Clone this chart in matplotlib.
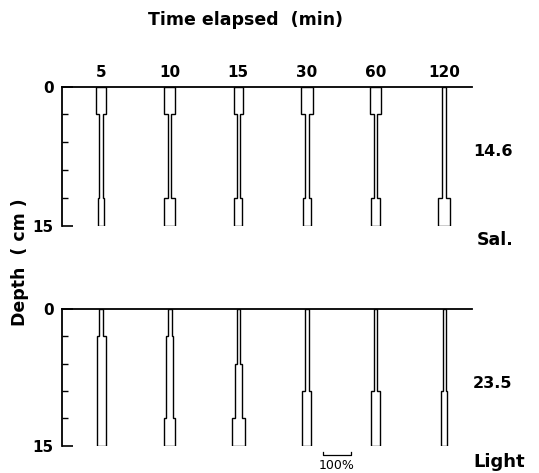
import matplotlib
matplotlib.use("Agg")
import matplotlib.pyplot as plt

# data: percent of population in each depth layer
times = ["5", "10", "15", "30", "60", "120"]
layer_edges = [0, 3, 6, 9, 12, 15]
sal_pct = [
    [38, 13, 13, 13, 20],
    [38, 11, 11, 11, 39],
    [32, 10, 10, 10, 28],
    [45, 14, 14, 14, 30],
    [38, 14, 14, 14, 32],
    [17, 17, 17, 17, 42],
]
light_pct = [
    [12, 32, 32, 32, 32],
    [13, 24, 24, 24, 38],
    [12, 12, 26, 26, 45],
    [13, 13, 13, 32, 32],
    [14, 14, 14, 32, 32],
    [11, 11, 11, 21, 21],
]
side_values = ["14.6", "23.5"]
side_names = ["Sal.", "Light"]

W, H = 539, 473
UNIT = 0.408 / 100.0   # x-units per percent (100% = scale bar)
XLIM = (0.43, 6.407)
FONT = "DejaVu Sans"


def px(x, y):
    return x / W, 1 - y / H


def profile(ax, pos, pcts):
    # outline of one stepped column, right side down then left side up
    xs, ys = [], []
    for i, p in enumerate(pcts):
        half = p * UNIT / 2
        xs += [pos + half, pos + half]
        ys += [layer_edges[i], layer_edges[i + 1]]
    for i in range(len(pcts) - 1, -1, -1):
        half = pcts[i] * UNIT / 2
        xs += [pos - half, pos - half]
        ys += [layer_edges[i + 1], layer_edges[i]]
    ax.fill(xs, ys, facecolor="white", edgecolor="black", lw=1.0, zorder=3)


fig = plt.figure(figsize=(W / 100, H / 100), dpi=100)

panels = [(86.7, 225.7, sal_pct), (309.0, 445.7, light_pct)]
axes = []
for k, (top, bot, data) in enumerate(panels):
    l, b = px(62, bot)
    ax = fig.add_axes([l, b, 410 / W, (bot - top) / H])
    ax.set_xlim(*XLIM)
    ax.set_ylim(15, 0)
    for i, pcts in enumerate(data):
        profile(ax, i + 1, pcts)
    for s in ["right", "bottom"]:
        ax.spines[s].set_visible(False)
    ax.spines["left"].set_linewidth(1.3)
    ax.spines["top"].set_linewidth(1.3)
    ax.set_yticks([0, 15])
    ax.set_yticklabels(["0", "15"], fontsize=11, fontweight="bold", family=FONT)
    ax.set_yticks([3, 6, 9, 12], minor=True)
    ax.tick_params(axis="y", which="major", direction="in", length=8, width=1.2, pad=6)
    ax.tick_params(axis="y", which="minor", direction="in", length=4, width=1.0)
    ax.xaxis.tick_top()
    if k == 0:
        ax.set_xticks(range(1, 7))
        ax.set_xticklabels(times, fontsize=11, fontweight="bold", family=FONT)
        ax.tick_params(axis="x", length=0, pad=5)
    else:
        ax.set_xticks([])
    axes.append(ax)

# scale bar (100%)
axb = axes[1]
x0 = 4.23
yb = 16.0
axb.plot([x0, x0, x0 + 100 * UNIT, x0 + 100 * UNIT], [yb - 0.35, yb, yb, yb - 0.35],
         color="black", lw=0.9, clip_on=False)
axb.text(x0 + 50 * UNIT, yb + 0.5, "100%", ha="center", va="top", fontsize=9, family=FONT)

fig.text(*px(246, 20), "Time elapsed  (min)", ha="center", va="center",
         fontsize=12.5, fontweight="bold", family=FONT)
fig.text(*px(20, 262), "Depth  ( cm )", ha="center", va="center", rotation=90,
         fontsize=12.5, fontweight="bold", family=FONT)

fig.text(*px(473, 152), side_values[0], ha="left", va="center",
         fontsize=11.5, fontweight="bold", family=FONT)
fig.text(*px(477, 240), side_names[0], ha="left", va="center",
         fontsize=12.5, fontweight="bold", family=FONT)
fig.text(*px(473, 383), side_values[1], ha="left", va="center",
         fontsize=11.5, fontweight="bold", family=FONT)
fig.text(*px(473, 462), side_names[1], ha="left", va="center",
         fontsize=13, fontweight="bold", family=FONT)

fig.savefig("out.png", dpi=100)
